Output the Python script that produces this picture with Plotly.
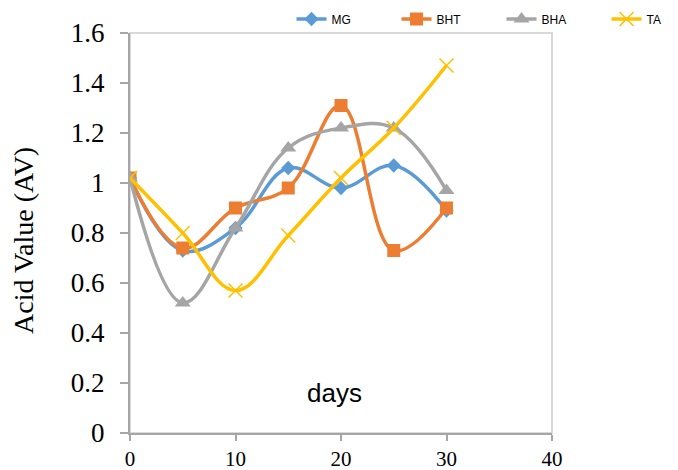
import plotly.graph_objects as go

days = [0, 5, 10, 15, 20, 25, 30]
mg = [1.02, 0.73, 0.82, 1.06, 0.98, 1.07, 0.89]
bht = [1.02, 0.74, 0.90, 0.98, 1.31, 0.73, 0.90]
bha = [1.02, 0.52, 0.82, 1.14, 1.22, 1.22, 0.97]
ta = [1.02, 0.80, 0.57, 0.79, 1.02, 1.22, 1.47]

series = [
    ("MG", mg, "#5B9BD5", dict(symbol="diamond", size=11)),
    ("BHT", bht, "#ED7D31", dict(symbol="square", size=13)),
    ("BHA", bha, "#A5A5A5", dict(symbol="triangle-up", size=14)),
    ("TA", ta, "#FFC000", dict(symbol="x-thin", size=14)),
]

fig = go.Figure()
for name, vals, col, mk in series:
    marker = dict(color=col, **mk)
    if mk["symbol"] == "x-thin":
        marker["line"] = dict(color=col, width=1.5)
    fig.add_trace(go.Scatter(
        x=days, y=vals, name=name, mode="lines+markers",
        line=dict(color=col, width=3.5, shape="spline", smoothing=1.1),
        marker=marker,
    ))

fig.add_shape(type="rect", xref="paper", yref="paper", x0=0, y0=0, x1=1, y1=1,
              line=dict(color="#D9D9D9", width=2), layer="below")

fig.add_annotation(text="days", x=19.4, y=0.16, xref="x", yref="y", showarrow=False,
                   font=dict(family="Liberation Sans", size=26, color="#000"))

fig.add_annotation(text="Acid Value (AV)", x=-0.2536, y=0.4825, xref="paper", yref="paper",
                   showarrow=False, textangle=-90, xanchor="center", yanchor="middle",
                   font=dict(family="Liberation Serif", size=28, color="#000"))

fig.update_layout(
    width=678, height=470,
    margin=dict(l=130, r=126, t=33, b=37, autoexpand=False),
    paper_bgcolor="white", plot_bgcolor="white",
    showlegend=True,
    legend=dict(orientation="h", x=1.378, y=1.035, xanchor="right", yanchor="middle",
                font=dict(family="Liberation Sans", size=12, color="#000"),
                entrywidth=60, entrywidthmode="pixels", bgcolor="rgba(0,0,0,0)",
                itemclick=False),
    xaxis=dict(range=[0, 40], tickvals=[0, 10, 20, 30, 40], showgrid=False, zeroline=False,
               showline=True, linecolor="#A6A6A6", linewidth=2, automargin=False,
               ticks="outside", ticklen=6, tickcolor="#A6A6A6", tickwidth=1.5,
               ticklabelstandoff=0,
               tickfont=dict(family="Liberation Serif", size=21, color="#000")),
    yaxis=dict(range=[0, 1.6], tickvals=[0, 0.2, 0.4, 0.6, 0.8, 1.0, 1.2, 1.4, 1.6],
               ticktext=["0", "0.2", "0.4", "0.6", "0.8", "1", "1.2", "1.4", "1.6"],
               showgrid=False, zeroline=False, automargin=False,
               showline=True, linecolor="#A6A6A6", linewidth=2,
               ticks="outside", ticklen=8, tickcolor="#A6A6A6", tickwidth=1.5,
               ticklabelstandoff=10,
               tickfont=dict(family="Liberation Serif", size=27, color="#000")),
)

fig.write_html("out.html")
